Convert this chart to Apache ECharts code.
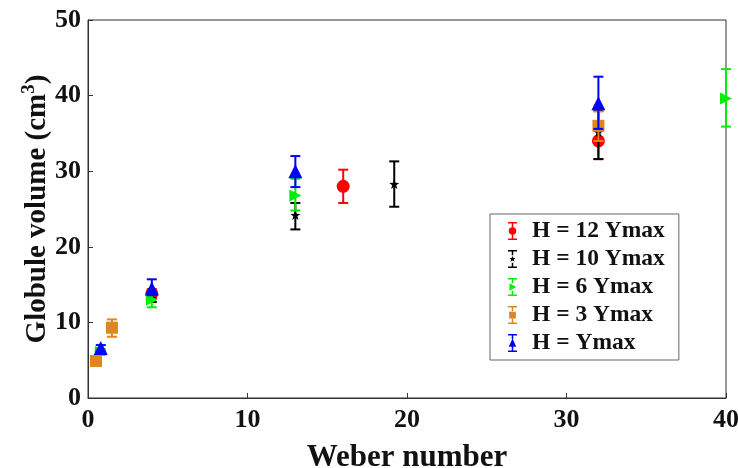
<!DOCTYPE html>
<html><head><meta charset="utf-8">
<script src="https://cdn.jsdelivr.net/npm/echarts@6/dist/echarts.min.js"></script>
<style>html,body{margin:0;padding:0;background:#fff}#c{width:738px;height:468px}</style>
</head><body><div id="c"></div>
<script>
const names = ['H = 12 Ymax','H = 10 Ymax','H = 6 Ymax','H = 3 Ymax','H = Ymax'];
const colors = ['#ff0000','#000000','#00ee00','#e0861e','#0000ff'];
const xTicks = [0,10,20,30,40];
const yTicks = [0,10,20,30,40,50];

const redX = [4,16,32], redY = [13.8,28.0,34.0], redLo = [13.2,25.8,31.6], redHi = [14.4,30.2,36.4];
const blackX = [4,13,19.2,32], blackY = [13.2,24.2,28.3,35.2], blackLo = [12.7,22.3,25.3,31.6], blackHi = [13.7,25.8,31.3,38.0];
const greenX = [0.8,4,13,40], greenY = [6.1,13.0,26.8,39.6], greenLo = [5.7,12.0,24.8,35.9], greenHi = [6.5,14.0,29.0,43.5];
const orangeX = [0.5,1.5,32], orangeY = [4.9,9.3,36.0], orangeLo = [4.6,8.1,34.0], orangeHi = [5.2,10.4,37.9];
const blueX = [0.8,4,13,32], blueY = [6.6,14.5,30.0,39.0], blueLo = [6.2,13.6,27.9,35.6], blueHi = [7.0,15.7,32.0,42.5];

const groups = [
  [redX, redY, redLo, redHi],
  [blackX, blackY, blackLo, blackHi],
  [greenX, greenY, greenLo, greenHi],
  [orangeX, orangeY, orangeLo, orangeHi],
  [blueX, blueY, blueLo, blueHi]
];

const bar = 'M2,0 h12 v2 h-12 z M7,2 h2 v5 h-2 z M7,17 h2 v5 h-2 z M2,22 h12 v2 h-12 z ';
const shapes = [
  'path://' + bar + 'M3,12 a5,5 0 1,1 10,0 a5,5 0 1,1 -10,0 z',
  'path://' + bar + 'M8,8 L9.2,10.8 L12,10.8 L9.8,12.6 L10.6,15.6 L8,13.9 L5.4,15.6 L6.2,12.6 L4,10.8 L6.8,10.8 z',
  'path://' + bar + 'M4,7 L13,12 L4,17 z',
  'path://' + bar + 'M3.5,7.5 h9 v9 h-9 z',
  'path://' + bar + 'M8,6 L13,17 L3,17 z'
];
const markerSym = [
  'circle',
  'path://M8,0 L10,5.5 L16,5.8 L11.3,9.4 L13,15 L8,11.7 L3,15 L4.7,9.4 L0,5.8 L6,5.5 z',
  'path://M0,0 L14,7 L0,14 z',
  'rect',
  'triangle'
];
const markerSize = [13, 10, 12, 12, 14];

const series = [];
groups.forEach((g, i) => {
  const [xs, ys, lo, hi] = g;
  series.push({
    type: 'custom', name: names[i], z: 2 + i * 2,
    data: xs.map((x, k) => [x, lo[k], hi[k]]),
    renderItem: (params, api) => {
      const p1 = api.coord([api.value(0), api.value(1)]);
      const p2 = api.coord([api.value(0), api.value(2)]);
      const w = 5;
      const st = {stroke: colors[i], lineWidth: 2};
      return {type: 'group', children: [
        {type: 'line', shape: {x1: p1[0], y1: p1[1], x2: p2[0], y2: p2[1]}, style: st},
        {type: 'line', shape: {x1: p1[0]-w, y1: p1[1], x2: p1[0]+w, y2: p1[1]}, style: st},
        {type: 'line', shape: {x1: p2[0]-w, y1: p2[1], x2: p2[0]+w, y2: p2[1]}, style: st}
      ]};
    },
    silent: true
  });
  series.push({
    type: 'scatter', name: names[i], z: 3 + i * 2,
    symbol: markerSym[i], symbolSize: markerSize[i],
    itemStyle: {color: colors[i], opacity: 1},
    data: xs.map((x, k) => [x, ys[k]])
  });
});

const chart = echarts.init(document.getElementById('c'), null, {renderer: 'canvas'});
const font = '"Liberation Serif", "Times New Roman", serif';
chart.setOption({
  animation: false,
  backgroundColor: '#fff',
  grid: {left: 88, right: 12, top: 20, bottom: 70, outerBoundsMode: 'none', containLabel: false,
    show: true, borderColor: '#333', borderWidth: 1, backgroundColor: 'transparent'},
  legend: {
    data: names.map((n, i) => ({name: n, icon: shapes[i], itemStyle: {color: colors[i]}})),
    orient: 'vertical', left: 490, top: 214,
    itemWidth: 11, itemHeight: 18, itemGap: 4,
    padding: [5, 14, 5, 18],
    borderColor: '#666', borderWidth: 1, backgroundColor: '#fff',
    textStyle: {fontFamily: font, fontWeight: 'bold', fontSize: 23.5, color: '#111', padding: [0, 0, 0, 9]},
    selectedMode: false
  },
  xAxis: {
    type: 'value', min: 0, max: 40, interval: 10,
    axisLine: {show: true, lineStyle: {color: '#333'}},
    axisTick: {inside: true, length: 5, lineStyle: {color: '#333'}},
    splitLine: {show: false},
    axisLabel: {fontFamily: font, fontWeight: 'bold', fontSize: 26, color: '#111', margin: 9,
      formatter: v => xTicks.includes(v) ? String(v) : ''},
    name: 'Weber number', nameLocation: 'middle', nameGap: 44, nameMoveOverlap: false,
    nameTextStyle: {fontFamily: font, fontWeight: 'bold', fontSize: 31, color: '#111'}
  },
  yAxis: {
    type: 'value', min: 0, max: 50, interval: 10,
    axisLine: {show: true, lineStyle: {color: '#333'}},
    axisTick: {inside: true, length: 5, lineStyle: {color: '#333'}},
    splitLine: {show: false},
    axisLabel: {fontFamily: font, fontWeight: 'bold', fontSize: 26, color: '#111', margin: 7,
      formatter: v => yTicks.includes(v) ? String(v) : ''},
    name: '{a|Globule volume (cm}{s|3}{a|)}', nameLocation: 'middle', nameGap: 33, nameMoveOverlap: false,
    nameTextStyle: {
      rich: {
        a: {fontFamily: font, fontWeight: 'bold', fontSize: 29, color: '#111'},
        s: {fontFamily: font, fontWeight: 'bold', fontSize: 19, color: '#111', verticalAlign: 'bottom', padding: [0,0,16,0]}
      }
    }
  },
  series: series
});
</script></body></html>
